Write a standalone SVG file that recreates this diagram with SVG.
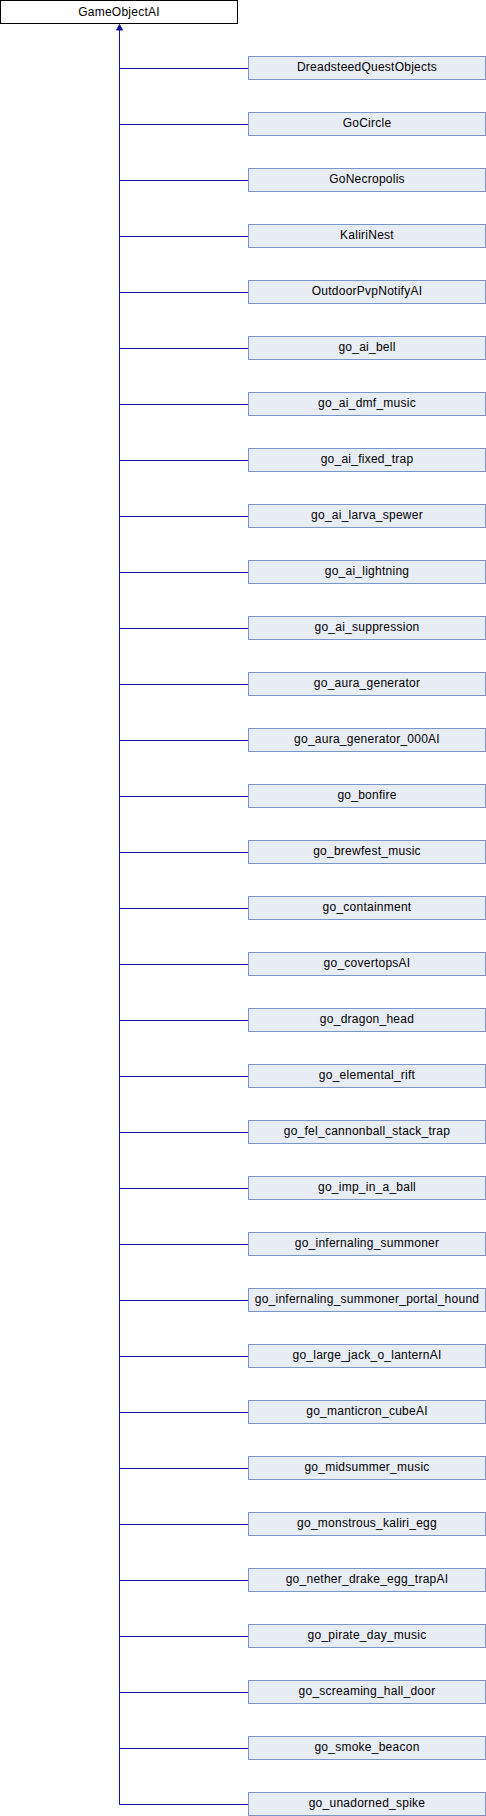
<svg xmlns="http://www.w3.org/2000/svg" width="486" height="1816" viewBox="0 0 486 1816">
<style>
.bg{fill:#ffffff}
.root{fill:#ffffff;stroke:#000000;stroke-width:1}
.node{fill:#E8ECF5;stroke:#7C95C6;stroke-width:1}
.lbl{font-family:"Liberation Sans",Arial,sans-serif;font-size:12px;letter-spacing:0.25px;fill:#000000;text-anchor:middle}
.edge{stroke:#10109A;stroke-width:1;fill:none}
.head{fill:#10109A;stroke:#10109A;stroke-width:1}
</style>
<rect class="bg" x="0" y="0" width="486" height="1816"/>
<g id="connectors">
<path class="edge" d="M119.5,29 V1804.5"/>
<path class="edge" d="M119.5,68.5 H248.5 M119.5,124.5 H248.5 M119.5,180.5 H248.5 M119.5,236.5 H248.5 M119.5,292.5 H248.5 M119.5,348.5 H248.5 M119.5,404.5 H248.5 M119.5,460.5 H248.5 M119.5,516.5 H248.5 M119.5,572.5 H248.5 M119.5,628.5 H248.5 M119.5,684.5 H248.5 M119.5,740.5 H248.5 M119.5,796.5 H248.5 M119.5,852.5 H248.5 M119.5,908.5 H248.5 M119.5,964.5 H248.5 M119.5,1020.5 H248.5 M119.5,1076.5 H248.5 M119.5,1132.5 H248.5 M119.5,1188.5 H248.5 M119.5,1244.5 H248.5 M119.5,1300.5 H248.5 M119.5,1356.5 H248.5 M119.5,1412.5 H248.5 M119.5,1468.5 H248.5 M119.5,1524.5 H248.5 M119.5,1580.5 H248.5 M119.5,1636.5 H248.5 M119.5,1692.5 H248.5 M119.5,1748.5 H248.5 M119.5,1804.5 H248.5"/>
<polygon class="head" points="119.5,24.5 116.5,30 122.5,30"/>
</g>
<g id="GameObjectAI"><rect class="root" x="0.5" y="0.5" width="237" height="23"/><text class="lbl" x="119" y="16">GameObjectAI</text></g>
<g id="n0"><rect class="node" x="248.5" y="56.5" width="237" height="23"/><text class="lbl" x="367" y="71">DreadsteedQuestObjects</text></g>
<g id="n1"><rect class="node" x="248.5" y="112.5" width="237" height="23"/><text class="lbl" x="367" y="127">GoCircle</text></g>
<g id="n2"><rect class="node" x="248.5" y="168.5" width="237" height="23"/><text class="lbl" x="367" y="183">GoNecropolis</text></g>
<g id="n3"><rect class="node" x="248.5" y="224.5" width="237" height="23"/><text class="lbl" x="367" y="239">KaliriNest</text></g>
<g id="n4"><rect class="node" x="248.5" y="280.5" width="237" height="23"/><text class="lbl" x="367" y="295">OutdoorPvpNotifyAI</text></g>
<g id="n5"><rect class="node" x="248.5" y="336.5" width="237" height="23"/><text class="lbl" x="367" y="351">go_ai_bell</text></g>
<g id="n6"><rect class="node" x="248.5" y="392.5" width="237" height="23"/><text class="lbl" x="367" y="407">go_ai_dmf_music</text></g>
<g id="n7"><rect class="node" x="248.5" y="448.5" width="237" height="23"/><text class="lbl" x="367" y="463">go_ai_fixed_trap</text></g>
<g id="n8"><rect class="node" x="248.5" y="504.5" width="237" height="23"/><text class="lbl" x="367" y="519">go_ai_larva_spewer</text></g>
<g id="n9"><rect class="node" x="248.5" y="560.5" width="237" height="23"/><text class="lbl" x="367" y="575">go_ai_lightning</text></g>
<g id="n10"><rect class="node" x="248.5" y="616.5" width="237" height="23"/><text class="lbl" x="367" y="631">go_ai_suppression</text></g>
<g id="n11"><rect class="node" x="248.5" y="672.5" width="237" height="23"/><text class="lbl" x="367" y="687">go_aura_generator</text></g>
<g id="n12"><rect class="node" x="248.5" y="728.5" width="237" height="23"/><text class="lbl" x="367" y="743">go_aura_generator_000AI</text></g>
<g id="n13"><rect class="node" x="248.5" y="784.5" width="237" height="23"/><text class="lbl" x="367" y="799">go_bonfire</text></g>
<g id="n14"><rect class="node" x="248.5" y="840.5" width="237" height="23"/><text class="lbl" x="367" y="855">go_brewfest_music</text></g>
<g id="n15"><rect class="node" x="248.5" y="896.5" width="237" height="23"/><text class="lbl" x="367" y="911">go_containment</text></g>
<g id="n16"><rect class="node" x="248.5" y="952.5" width="237" height="23"/><text class="lbl" x="367" y="967">go_covertopsAI</text></g>
<g id="n17"><rect class="node" x="248.5" y="1008.5" width="237" height="23"/><text class="lbl" x="367" y="1023">go_dragon_head</text></g>
<g id="n18"><rect class="node" x="248.5" y="1064.5" width="237" height="23"/><text class="lbl" x="367" y="1079">go_elemental_rift</text></g>
<g id="n19"><rect class="node" x="248.5" y="1120.5" width="237" height="23"/><text class="lbl" x="367" y="1135">go_fel_cannonball_stack_trap</text></g>
<g id="n20"><rect class="node" x="248.5" y="1176.5" width="237" height="23"/><text class="lbl" x="367" y="1191">go_imp_in_a_ball</text></g>
<g id="n21"><rect class="node" x="248.5" y="1232.5" width="237" height="23"/><text class="lbl" x="367" y="1247">go_infernaling_summoner</text></g>
<g id="n22"><rect class="node" x="248.5" y="1288.5" width="237" height="23"/><text class="lbl" x="367" y="1303">go_infernaling_summoner_portal_hound</text></g>
<g id="n23"><rect class="node" x="248.5" y="1344.5" width="237" height="23"/><text class="lbl" x="367" y="1359">go_large_jack_o_lanternAI</text></g>
<g id="n24"><rect class="node" x="248.5" y="1400.5" width="237" height="23"/><text class="lbl" x="367" y="1415">go_manticron_cubeAI</text></g>
<g id="n25"><rect class="node" x="248.5" y="1456.5" width="237" height="23"/><text class="lbl" x="367" y="1471">go_midsummer_music</text></g>
<g id="n26"><rect class="node" x="248.5" y="1512.5" width="237" height="23"/><text class="lbl" x="367" y="1527">go_monstrous_kaliri_egg</text></g>
<g id="n27"><rect class="node" x="248.5" y="1568.5" width="237" height="23"/><text class="lbl" x="367" y="1583">go_nether_drake_egg_trapAI</text></g>
<g id="n28"><rect class="node" x="248.5" y="1624.5" width="237" height="23"/><text class="lbl" x="367" y="1639">go_pirate_day_music</text></g>
<g id="n29"><rect class="node" x="248.5" y="1680.5" width="237" height="23"/><text class="lbl" x="367" y="1695">go_screaming_hall_door</text></g>
<g id="n30"><rect class="node" x="248.5" y="1736.5" width="237" height="23"/><text class="lbl" x="367" y="1751">go_smoke_beacon</text></g>
<g id="n31"><rect class="node" x="248.5" y="1792.5" width="237" height="23"/><text class="lbl" x="367" y="1807">go_unadorned_spike</text></g>
</svg>
